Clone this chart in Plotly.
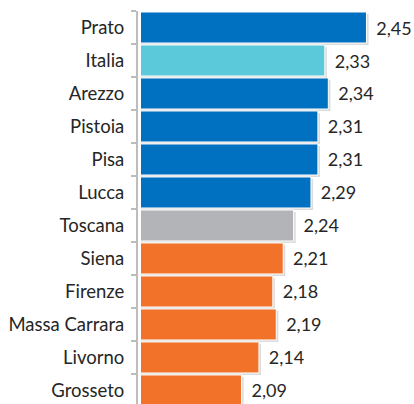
import plotly.graph_objects as go

# Values
provinces = [
    "Prato", "Italia", "Arezzo", "Pistoia", "Pisa", "Lucca",
    "Toscana", "Siena", "Firenze", "Massa Carrara", "Livorno", "Grosseto",
]
values = [2.45, 2.33, 2.34, 2.31, 2.31, 2.29, 2.24, 2.21, 2.18, 2.19, 2.14, 2.09]
groups = ["alta", "italia", "alta", "alta", "alta", "alta",
          "toscana", "bassa", "bassa", "bassa", "bassa", "bassa"]

palette = {
    "alta": "#0070C0",
    "italia": "#5CC9DB",
    "toscana": "#B3B4B7",
    "bassa": "#F2722A",
}
bar_colors = [palette[g] for g in groups]

FONT = "Lato, 'Open Sans', sans-serif"

fig = go.Figure()

# soft drop shadow behind each bar
fig.add_trace(
    go.Bar(
        y=provinces,
        x=values,
        orientation="h",
        base=0.006,
        width=0.94,
        offset=-0.41,
        marker=dict(color="rgba(0,0,0,0.14)", line=dict(width=0)),
        hoverinfo="skip",
        showlegend=False,
    )
)

fig.add_trace(
    go.Bar(
        y=provinces,
        x=values,
        orientation="h",
        width=0.94,
        marker=dict(color=bar_colors, line=dict(color="white", width=1)),
        texttemplate="\u00a0\u2009%{x:.2f}",
        textposition="outside",
        textfont=dict(family=FONT, size=18, color="#262626"),
        cliponaxis=False,
        showlegend=False,
    )
)

fig.update_layout(
    width=414,
    height=404,
    margin=dict(l=137, r=0, t=11, b=0, autoexpand=False),
    paper_bgcolor="white",
    plot_bgcolor="white",
    barmode="overlay",
    separators=",.",
    font=dict(family=FONT, size=18.5, color="#262626"),
    xaxis=dict(
        domain=[4 / 277, 1],
        range=[1.8, 2.587],
        visible=False,
        showgrid=False,
        zeroline=False,
    ),
    yaxis=dict(
        type="category",
        categoryorder="array",
        categoryarray=provinces,
        range=[11.41, -0.5],
        anchor="free",
        position=0,
        automargin=False,
        showline=True,
        linecolor="#BDBDBD",
        linewidth=2,
        ticks="outside",
        tickson="boundaries",
        ticklen=5,
        tickcolor="#BDBDBD",
        tickwidth=1.5,
        ticklabelstandoff=8,
        showgrid=False,
        zeroline=False,
        tickfont=dict(family=FONT, size=18.5, color="#262626"),
    ),
)

# drop the browser's default body margin so the figure fills the window
fig.write_html(
    "out.html",
    config={"displayModeBar": False},
    post_script="document.body.style.margin='0';document.body.style.overflow='hidden';",
)
